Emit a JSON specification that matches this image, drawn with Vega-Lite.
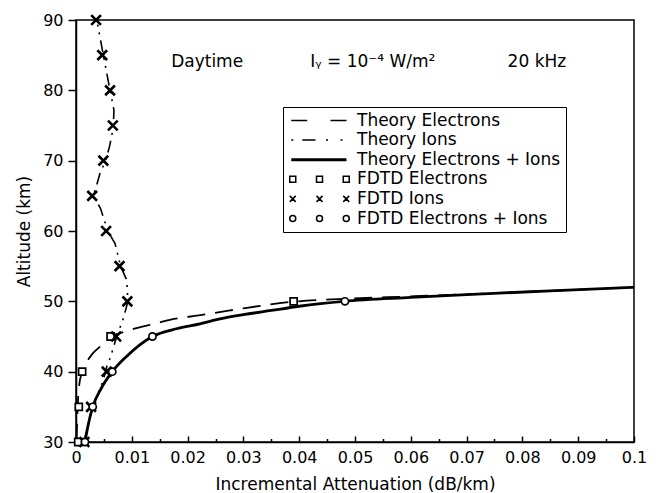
{
  "$schema": "https://vega.github.io/schema/vega-lite/v6.json",
  "width": 558,
  "height": 422,
  "autosize": "none",
  "padding": {"left": 76, "top": 20, "right": 27, "bottom": 51},
  "background": "white",
  "datasets": {
    "rows": [
      {"series": "Theory Electrons", "att": 0.0001, "alt": 30},
      {"series": "Theory Electrons", "att": 0.0002, "alt": 33},
      {"series": "Theory Electrons", "att": 0.0003, "alt": 35},
      {"series": "Theory Electrons", "att": 0.0005, "alt": 37.6},
      {"series": "Theory Electrons", "att": 0.0011, "alt": 40},
      {"series": "Theory Electrons", "att": 0.0018, "alt": 41.2},
      {"series": "Theory Electrons", "att": 0.0029, "alt": 42.5},
      {"series": "Theory Electrons", "att": 0.0045, "alt": 43.7},
      {"series": "Theory Electrons", "att": 0.0062, "alt": 45},
      {"series": "Theory Electrons", "att": 0.008, "alt": 45.5},
      {"series": "Theory Electrons", "att": 0.01, "alt": 46.0},
      {"series": "Theory Electrons", "att": 0.014, "alt": 46.8},
      {"series": "Theory Electrons", "att": 0.017, "alt": 47.4},
      {"series": "Theory Electrons", "att": 0.022, "alt": 48.0},
      {"series": "Theory Electrons", "att": 0.026, "alt": 48.5},
      {"series": "Theory Electrons", "att": 0.03, "alt": 49.0},
      {"series": "Theory Electrons", "att": 0.039, "alt": 49.95},
      {"series": "Theory Electrons", "att": 0.048, "alt": 50.35},
      {"series": "Theory Electrons", "att": 0.06, "alt": 50.7},
      {"series": "Theory Electrons", "att": 0.07, "alt": 51.0},
      {"series": "Theory Electrons", "att": 0.085, "alt": 51.5},
      {"series": "Theory Electrons", "att": 0.1, "alt": 52.0},

      {"series": "Theory Ions", "att": 0.0014, "alt": 30},
      {"series": "Theory Ions", "att": 0.0030, "alt": 35},
      {"series": "Theory Ions", "att": 0.0049, "alt": 38.8},
      {"series": "Theory Ions", "att": 0.0055, "alt": 40.7},
      {"series": "Theory Ions", "att": 0.0062, "alt": 42.1},
      {"series": "Theory Ions", "att": 0.0073, "alt": 45},
      {"series": "Theory Ions", "att": 0.0085, "alt": 47.6},
      {"series": "Theory Ions", "att": 0.0093, "alt": 50},
      {"series": "Theory Ions", "att": 0.0091, "alt": 53},
      {"series": "Theory Ions", "att": 0.0080, "alt": 55},
      {"series": "Theory Ions", "att": 0.0070, "alt": 58.2},
      {"series": "Theory Ions", "att": 0.0057, "alt": 60},
      {"series": "Theory Ions", "att": 0.0044, "alt": 63.2},
      {"series": "Theory Ions", "att": 0.0031, "alt": 65},
      {"series": "Theory Ions", "att": 0.0037, "alt": 66.5},
      {"series": "Theory Ions", "att": 0.0043, "alt": 68.2},
      {"series": "Theory Ions", "att": 0.0053, "alt": 70},
      {"series": "Theory Ions", "att": 0.0060, "alt": 72},
      {"series": "Theory Ions", "att": 0.0064, "alt": 73.5},
      {"series": "Theory Ions", "att": 0.0067, "alt": 75},
      {"series": "Theory Ions", "att": 0.0068, "alt": 77.2},
      {"series": "Theory Ions", "att": 0.0061, "alt": 80},
      {"series": "Theory Ions", "att": 0.0054, "alt": 82.9},
      {"series": "Theory Ions", "att": 0.0049, "alt": 85},
      {"series": "Theory Ions", "att": 0.0042, "alt": 88},
      {"series": "Theory Ions", "att": 0.0037, "alt": 90},

      {"series": "Theory Electrons + Ions", "att": 0.0016, "alt": 30},
      {"series": "Theory Electrons + Ions", "att": 0.0022, "alt": 32.5},
      {"series": "Theory Electrons + Ions", "att": 0.003, "alt": 35},
      {"series": "Theory Electrons + Ions", "att": 0.0045, "alt": 37.6},
      {"series": "Theory Electrons + Ions", "att": 0.0065, "alt": 40},
      {"series": "Theory Electrons + Ions", "att": 0.0091, "alt": 42.2},
      {"series": "Theory Electrons + Ions", "att": 0.0137, "alt": 45},
      {"series": "Theory Electrons + Ions", "att": 0.018, "alt": 46.1},
      {"series": "Theory Electrons + Ions", "att": 0.0222, "alt": 46.8},
      {"series": "Theory Electrons + Ions", "att": 0.0258, "alt": 47.5},
      {"series": "Theory Electrons + Ions", "att": 0.03, "alt": 48.1},
      {"series": "Theory Electrons + Ions", "att": 0.035, "alt": 48.7},
      {"series": "Theory Electrons + Ions", "att": 0.04, "alt": 49.3},
      {"series": "Theory Electrons + Ions", "att": 0.048, "alt": 50.0},
      {"series": "Theory Electrons + Ions", "att": 0.06, "alt": 50.55},
      {"series": "Theory Electrons + Ions", "att": 0.07, "alt": 50.95},
      {"series": "Theory Electrons + Ions", "att": 0.085, "alt": 51.5},
      {"series": "Theory Electrons + Ions", "att": 0.1, "alt": 52.0},

      {"series": "FDTD Electrons", "att": 0.0004, "alt": 30},
      {"series": "FDTD Electrons", "att": 0.0005, "alt": 35},
      {"series": "FDTD Electrons", "att": 0.0011, "alt": 40},
      {"series": "FDTD Electrons", "att": 0.0062, "alt": 45},
      {"series": "FDTD Electrons", "att": 0.039, "alt": 50},

      {"series": "FDTD Ions", "att": 0.0015, "alt": 30},
      {"series": "FDTD Ions", "att": 0.0027, "alt": 35},
      {"series": "FDTD Ions", "att": 0.0055, "alt": 40},
      {"series": "FDTD Ions", "att": 0.0072, "alt": 45},
      {"series": "FDTD Ions", "att": 0.0092, "alt": 50},
      {"series": "FDTD Ions", "att": 0.0078, "alt": 55},
      {"series": "FDTD Ions", "att": 0.0054, "alt": 60},
      {"series": "FDTD Ions", "att": 0.0029, "alt": 65},
      {"series": "FDTD Ions", "att": 0.0049, "alt": 70},
      {"series": "FDTD Ions", "att": 0.0066, "alt": 75},
      {"series": "FDTD Ions", "att": 0.0061, "alt": 80},
      {"series": "FDTD Ions", "att": 0.0047, "alt": 85},
      {"series": "FDTD Ions", "att": 0.0036, "alt": 90},

      {"series": "FDTD Electrons + Ions", "att": 0.0016, "alt": 30},
      {"series": "FDTD Electrons + Ions", "att": 0.003, "alt": 35},
      {"series": "FDTD Electrons + Ions", "att": 0.0065, "alt": 40},
      {"series": "FDTD Electrons + Ions", "att": 0.0137, "alt": 45},
      {"series": "FDTD Electrons + Ions", "att": 0.0482, "alt": 50}
    ],
    "notes": [
      {"label": "Daytime", "pos": "a"},
      {"label": "Iᵧ = 10⁻⁴ W/m²", "pos": "b"},
      {"label": "20 kHz", "pos": "c"}
    ]
  },
  "resolve": {"axis": {"x": "independent"}},
  "layer": [
    {
      "layer": [
        {
          "data": {"name": "rows"},
          "transform": [{"filter": "datum.series === 'Theory Electrons'"}],
          "mark": {"type": "line", "interpolate": "monotone", "color": "black", "strokeWidth": 1.8, "strokeDash": [18, 10]},
          "encoding": {
            "x": {
              "field": "att", "type": "quantitative",
              "scale": {"domain": [0, 0.1], "nice": false, "zero": false},
              "axis": {
                "orient": "bottom",
                "values": [0, 0.01, 0.02, 0.03, 0.04, 0.05, 0.06, 0.07, 0.08, 0.09, 0.1],
                "format": ".2~f",
                "tickSize": -6,
                "labelPadding": 13,
                "labelFlush": false,
                "labelOverlap": false,
                "grid": false,
                "title": "Incremental Attenuation (dB/km)",
                "titlePadding": 11
              }
            },
            "y": {
              "field": "alt", "type": "quantitative",
              "scale": {"domain": [30, 90], "nice": false, "zero": false},
              "axis": {
                "values": [30, 35, 40, 45, 50, 55, 60, 65, 70, 75, 80, 85, 90],
                "tickSize": 8,
                "labelPadding": 5,
                "labelFlush": false,
                "labelOverlap": false,
                "grid": false,
                "title": "Altitude (km)",
                "titlePadding": 9
              }
            }
          }
        },
        {
          "data": {"name": "rows"},
          "transform": [{"filter": "datum.series === 'Theory Ions'"}],
          "mark": {"type": "line", "interpolate": "linear", "color": "black", "strokeWidth": 1.6, "strokeDash": [12, 6, 2, 6, 2, 6]},
          "encoding": {
            "x": {"field": "att", "type": "quantitative"},
            "y": {"field": "alt", "type": "quantitative"},
            "order": {"field": "alt", "type": "quantitative"}
          }
        },
        {
          "data": {"name": "rows"},
          "transform": [{"filter": "datum.series === 'Theory Electrons + Ions'"}],
          "mark": {"type": "line", "interpolate": "monotone", "color": "black", "strokeWidth": 2.8},
          "encoding": {
            "x": {"field": "att", "type": "quantitative"},
            "y": {"field": "alt", "type": "quantitative"}
          }
        },
        {
          "data": {"name": "rows"},
          "transform": [{"filter": "datum.series === 'FDTD Electrons'"}],
          "mark": {"type": "point", "shape": "square", "filled": false, "fill": "white", "fillOpacity": 1, "stroke": "black", "strokeWidth": 1.7, "size": 50, "opacity": 1},
          "encoding": {
            "x": {"field": "att", "type": "quantitative"},
            "y": {"field": "alt", "type": "quantitative"}
          }
        },
        {
          "data": {"name": "rows"},
          "transform": [{"filter": "datum.series === 'FDTD Ions'"}],
          "mark": {"type": "point", "shape": "M-1,-1L1,1M-1,1L1,-1", "filled": false, "stroke": "black", "strokeWidth": 2.6, "size": 95, "opacity": 1},
          "encoding": {
            "x": {"field": "att", "type": "quantitative"},
            "y": {"field": "alt", "type": "quantitative"}
          }
        },
        {
          "data": {"name": "rows"},
          "transform": [{"filter": "datum.series === 'FDTD Electrons + Ions'"}],
          "mark": {"type": "point", "shape": "circle", "filled": false, "fill": "white", "fillOpacity": 1, "stroke": "black", "strokeWidth": 1.7, "size": 52, "opacity": 1},
          "encoding": {
            "x": {"field": "att", "type": "quantitative"},
            "y": {"field": "alt", "type": "quantitative"}
          }
        },
        {
          "data": {"name": "rows"},
          "mark": {"type": "point", "filled": false, "opacity": 0},
          "encoding": {
            "x": {"field": "att", "type": "quantitative"},
            "y": {"field": "alt", "type": "quantitative"},
            "shape": {
              "field": "series", "type": "nominal",
              "scale": {
                "domain": ["Theory Electrons", "Theory Ions", "Theory Electrons + Ions", "FDTD Electrons", "FDTD Ions", "FDTD Electrons + Ions"],
                "range": [
                  "M-1.05,0H2.15M6.8,0H10",
                  "M-1.05,0H-0.65M1.15,0H3.8M5.9,0H6.3M8.8,0H9.2",
                  "M-1.05,-0.15H10M-1.05,0.15H10",
                  "M-1.35,-0.6H-0.15V0.6H-1.35ZM4.0,-0.6H5.2V0.6H4.0ZM9.35,-0.6H10.55V0.6H9.35Z",
                  "M-1.35,-0.6L-0.15,0.6M-1.35,0.6L-0.15,-0.6M4.0,-0.6L5.2,0.6M4.0,0.6L5.2,-0.6M9.35,-0.6L10.55,0.6M9.35,0.6L10.55,-0.6",
                  "M-1.35,0a0.6,0.6 0 1,0 1.2,0a0.6,0.6 0 1,0 -1.2,0M4.0,0a0.6,0.6 0 1,0 1.2,0a0.6,0.6 0 1,0 -1.2,0M9.35,0a0.6,0.6 0 1,0 1.2,0a0.6,0.6 0 1,0 -1.2,0"
                ]
              },
              "legend": {
                "orient": "none",
                "legendX": 207,
                "legendY": 87,
                "title": null,
                "strokeColor": "black",
                "padding": 5,
                "labelFont": "DejaVu Sans",
                "labelFontSize": 17,
                "labelColor": "black",
                "labelOffset": 52,
                "labelLimit": 400,
                "rowPadding": 1.6,
                "symbolSize": 100,
                "symbolStrokeWidth": 1.5,
                "symbolStrokeColor": "black",
                "symbolFillColor": "transparent",
                "symbolOpacity": 1
              }
            }
          }
        },
        {
          "data": {"name": "notes"},
          "transform": [{"filter": "datum.pos === 'a'"}],
          "mark": {"type": "text", "fontSize": 17, "color": "black", "align": "center", "baseline": "middle"},
          "encoding": {"text": {"field": "label"}, "x": {"datum": 0.0235}, "y": {"datum": 84}}
        },
        {
          "data": {"name": "notes"},
          "transform": [{"filter": "datum.pos === 'b'"}],
          "mark": {"type": "text", "fontSize": 17, "color": "black", "align": "center", "baseline": "middle"},
          "encoding": {"text": {"field": "label"}, "x": {"datum": 0.0532}, "y": {"datum": 84}}
        },
        {
          "data": {"name": "notes"},
          "transform": [{"filter": "datum.pos === 'c'"}],
          "mark": {"type": "text", "fontSize": 17, "color": "black", "align": "center", "baseline": "middle"},
          "encoding": {"text": {"field": "label"}, "x": {"datum": 0.0826}, "y": {"datum": 84}}
        }
      ]
    },
    {
      "data": {"name": "rows"},
      "mark": {"type": "point", "opacity": 0},
      "encoding": {
        "x": {
          "field": "att", "type": "quantitative",
          "axis": {
            "orient": "bottom",
            "values": [0.005, 0.015, 0.025, 0.035, 0.045, 0.055, 0.065, 0.075, 0.085, 0.095],
            "labels": false,
            "domain": false,
            "grid": false,
            "tickSize": -3.5,
            "title": null
          }
        }
      }
    }
  ],
  "config": {
    "font": "DejaVu Sans",
    "view": {"stroke": "black", "strokeWidth": 1.5},
    "axis": {
      "domainColor": "black",
      "domainWidth": 1.5,
      "tickColor": "black",
      "tickWidth": 1.5,
      "labelColor": "black",
      "labelFont": "DejaVu Sans",
      "labelFontSize": 16,
      "titleFont": "DejaVu Sans",
      "titleFontSize": 17,
      "titleFontWeight": "normal",
      "titleColor": "black"
    },
    "text": {"font": "DejaVu Sans"}
  }
}
